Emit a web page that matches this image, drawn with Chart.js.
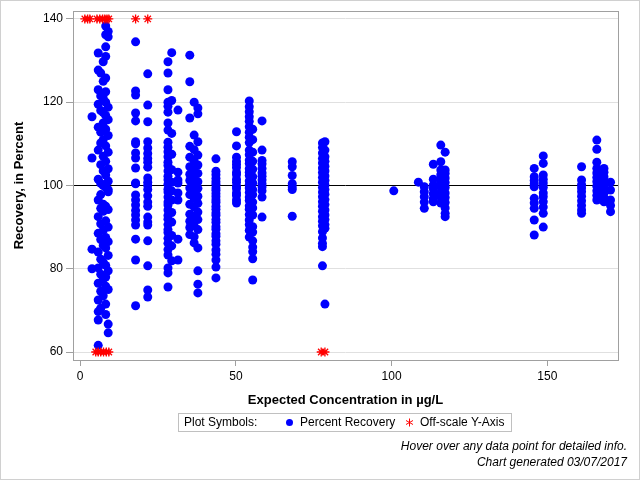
<!DOCTYPE html>
<html>
<head>
<meta charset="utf-8">
<script src="https://cdn.jsdelivr.net/npm/chart.js@4.4.1/dist/chart.umd.min.js"></script>
<style>
  body { margin: 0; background: #fff; font-family: "Liberation Sans", Arial, sans-serif; }
  #wrap { position: relative; width: 640px; height: 480px; }
  #frame { position: absolute; left: 0; top: 0; width: 640px; height: 480px; box-sizing: border-box; border: 1px solid #d0d0d0; pointer-events: none; }
  #legend { position: absolute; left: 178px; top: 413px; width: 334px; height: 19px; box-sizing: border-box; border: 1px solid #c0c0c0; font-size: 12px; color: #000; }
  #legend span { position: absolute; top: 1px; white-space: nowrap; }
  #legend .dot { top: 5px; width: 7px; height: 7px; border-radius: 50%; background: #0000ff; }
  #legend svg { position: absolute; top: 4px; }
  .note { position: absolute; right: 13px; font-size: 12px; font-style: italic; color: #000; white-space: nowrap; }
</style>
</head>
<body>
<div id="wrap">
  <canvas id="chart" width="640" height="480"></canvas>
  <div id="legend">
    <span style="left:5px">Plot Symbols:</span>
    <span class="dot" style="left:107px"></span>
    <span style="left:121px">Percent Recovery</span>
    <svg width="9" height="9" style="left:226px" viewBox="0 0 9 9"><g stroke="#ff0000" stroke-width="1"><line x1="4.5" y1="0.5" x2="4.5" y2="8.5"/><line x1="1" y1="2.5" x2="8" y2="6.5"/><line x1="1" y1="6.5" x2="8" y2="2.5"/></g></svg>
    <span style="left:241px">Off-scale Y-Axis</span>
  </div>
  <div class="note" style="top:439px">Hover over any data point for detailed info.</div>
  <div class="note" style="top:455px">Chart generated 03/07/2017</div>
  <div id="frame"></div>
</div>
<script>
// expected concentrations (µg/L), one entry per column of points
const concentrations = [3.8, 5.8, 6.6, 7.4, 8.2, 9.0, 17.8, 21.7, 28.2, 29.4, 31.4, 35.2, 36.6, 37.8,
    43.6, 50.2, 54.3, 55.4, 58.4, 68.1, 77.8, 78.6, 100.7, 108.6, 110.5, 113.4, 115.8, 117.2,
    145.8, 148.7, 161.0, 165.9, 168.2, 170.3];

// percent recovery for each concentration above
const recoveries = [
    [116.5, 106.6, 84.7, 80],
    [131.8, 127.7, 123, 119.5, 114, 108.5, 101.5, 96.5, 92.5, 88.5, 84, 80.2, 76.5, 72.5, 69.7, 67.7, 61.6],
    [127, 121.5, 118, 112.8, 110.2, 105, 100.5, 97.8, 94.5, 90.8, 87, 82.3, 78.7, 74.6, 70.5],
    [129.7, 125, 121, 117.5, 115, 111, 107, 103.5, 100, 95.5, 93.8, 89.2, 85.6, 81.6, 77.5, 73.5],
    [138.3, 136.2, 133.3, 131, 125.8, 122.5, 120, 116.8, 113.5, 109.5, 105.8, 102.5, 99.6, 95, 91.5, 87.5, 85, 80.8, 78, 75.8, 71.5, 69],
    [137, 135.7, 118.8, 115.8, 112, 108, 104, 101, 99, 98.5, 94.2, 90, 86.5, 83.2, 79.5, 75, 66.7, 64.6],
    [134.5, 122.7, 121.7, 117.4, 115.5, 110.5, 110, 107.8, 106.6, 104.2, 100.6, 100.4, 97.7, 96.5, 95.3, 94, 92.9, 91.7, 90.5, 87.1, 82.1, 71.1],
    [126.8, 119.3, 115.3, 110.5, 109, 107.7, 106.5, 105.6, 104.4, 101.8, 100.8, 100, 99, 97.5, 96, 95, 92.4, 91.2, 90.5, 86.7, 80.7, 74.9, 73.2],
    [129.7, 127, 123, 120, 119, 117.6, 115, 113.3, 110.4, 109.2, 108.1, 106.9, 105.6, 104.8, 103.5, 102.2, 101.4, 100.3, 99.1, 98.4, 97.2, 96.0, 95.3, 94.1, 92.8, 91.9, 90.6, 89.4, 88.7, 87.3, 86.1, 84.6, 83.3, 80.2, 79, 75.6],
    [131.9, 120.4, 112.5, 107.5, 103.8, 100.8, 98.7, 96.5, 93.5, 91.2, 88, 85.5, 81.9],
    [118.1, 103.2, 101.3, 100.6, 98.2, 96.5, 87.1, 82.1],
    [131.3, 124.9, 116.2, 109.4, 106.8, 104.5, 102.7, 101.2, 99.4, 97.8, 95.5, 93.1, 91.4, 89.9, 88.2],
    [120, 112.1, 108.6, 105.9, 103.6, 101.9, 100.3, 98.6, 96.9, 94.8, 92.6, 90.3, 87.7, 86.2],
    [118.6, 117.2, 110.5, 107.3, 104.9, 102.9, 100.9, 99.3, 97.4, 95.7, 93.6, 91.8, 89.4, 85, 79.5, 76.3, 74.2],
    [106.4, 103.4, 102.6, 101.7, 100.9, 100.3, 99.4, 98.8, 98.0, 97.3, 96.5, 95.9, 95.0, 94.3, 93.4, 92.8, 91.8, 91.1, 90.1, 89.5, 88.4, 87.8, 86.7, 85.9, 84.5, 83.5, 82.1, 80.4, 77.8],
    [112.9, 109.5, 106.8, 105.8, 105.1, 104.3, 103.2, 102.6, 101.5, 100.8, 99.8, 99.2, 98.2, 97.6, 96.5, 95.8],
    [120.3, 118.9, 117.7, 116.5, 115.4, 114.1, 112.8, 111.6, 110.3, 108.5, 107.4, 106.1, 105.3, 104.0, 103.2, 102.4, 101.1, 100.2, 99.4, 98.3, 97.2, 96.4, 95.1, 94.3, 93.0, 91.7, 90.6, 89.2, 87.6],
    [113.5, 111, 108, 105.8, 103.9, 102.1, 100.6, 99, 97.8, 96, 94.6, 92.9, 90.1, 88.8, 86.7, 85.2, 84.1, 82.4, 77.3],
    [115.5, 108.5, 106, 105.2, 104.1, 103.0, 102.2, 101.3, 100.4, 99.6, 98.7, 97.2, 92.4],
    [105.7, 104.5, 102.4, 100.4, 99.6, 99, 92.6],
    [110.2, 109.1, 107.8, 106.5, 105.4, 104.2, 103.1, 101.9, 100.8, 99.5, 98.4, 97.3, 96.1, 95.0, 93.8, 92.5, 91.4, 90.3, 88.9, 87.4, 86.1, 85.3, 80.7],
    [110.5, 108.5, 106.9, 105.8, 104.6, 103.5, 102.3, 101.2, 100.1, 99.0, 97.9, 96.6, 95.4, 94.1, 92.9, 91.8, 90.6, 89.7, 71.5],
    [98.7],
    [100.8],
    [99.7, 98.5, 97.3, 96.0, 94.5],
    [105.1, 101.5, 100.1, 99.2, 98.0, 96.8, 96.1],
    [109.7, 105.7, 103.7, 102.6, 101.4, 100.5, 99.6, 98.3, 97.2, 95.8],
    [108, 103.7, 102.9, 101.8, 100.7, 99.5, 98.2, 97.1, 95.9, 94.6, 93.3, 92.5],
    [104.1, 102.1, 101.2, 100.4, 99.7, 96.9, 95.8, 94.5, 91.7, 88.1],
    [107.1, 105.3, 102.5, 101.5, 100.6, 99.5, 98.2, 97.3, 96.1, 94.8, 93.3, 90],
    [104.5, 101.3, 100.2, 99.4, 98.5, 97.4, 96.3, 95.2, 94.1, 93.3],
    [110.9, 108.7, 105.6, 104.1, 103.0, 101.9, 100.9, 99.8, 98.7, 97.6, 96.5],
    [104.1, 103.2, 102.1, 101.0, 100.0, 99.0, 98.1, 97.0, 96.1],
    [100.8, 98.9, 96.5, 95.2, 93.7]
];

// concentrations whose recovery is off the scale (drawn at the axis limits)
const offScaleHighX = [1.5, 2.4, 3.1, 5.4, 6.3, 7.2, 7.9, 8.6, 9.2, 17.8, 21.7];
const offScaleLowX = [5.0, 5.8, 6.6, 7.5, 8.4, 9.2, 77.4, 78.6];
const offScaleHigh = 140;
const offScaleLow = 60;

const xTicks = [0, 50, 100, 150];
const yTicks = [60, 80, 100, 120, 140];

const recoveryPoints = [];
concentrations.forEach((c, i) => {
    recoveries[i].forEach(r => recoveryPoints.push({ x: c, y: r }));
});
const offScalePoints = offScaleHighX.map(c => ({ x: c, y: offScaleHigh }))
    .concat(offScaleLowX.map(c => ({ x: c, y: offScaleLow })));

const frameColor = "#a0a0a0";
const fontFamily = "'Liberation Sans', Arial, sans-serif";

// gray box round the plot area
const plotFrame = {
    id: "plotFrame",
    afterDraw(chart) {
        const a = chart.chartArea;
        const c = chart.ctx;
        c.save();
        c.strokeStyle = frameColor;
        c.lineWidth = 1;
        c.strokeRect(Math.round(a.left) + 0.5, Math.round(a.top) + 0.5,
            Math.round(a.right - a.left), Math.round(a.bottom - a.top));
        c.restore();
    }
};

new Chart(document.getElementById("chart").getContext("2d"), {
    type: "scatter",
    data: {
        datasets: [
            {
                label: "Off-scale Y-Axis",
                data: offScalePoints,
                pointStyle: "star",
                radius: 4.5,
                borderColor: "#ff0000",
                backgroundColor: "#ff0000",
                borderWidth: 1.3
            },
            {
                label: "Percent Recovery",
                data: recoveryPoints,
                pointStyle: "circle",
                radius: 4.5,
                borderWidth: 0,
                backgroundColor: "#0000ff",
                borderColor: "#0000ff"
            }
        ]
    },
    options: {
        responsive: false,
        animation: false,
        devicePixelRatio: 1,
        layout: { padding: { left: 4, right: 22, top: 11, bottom: 72 } },
        plugins: {
            legend: { display: false },
            tooltip: { enabled: true }
        },
        scales: {
            x: {
                type: "linear",
                min: -2.3,
                max: 172.7,
                afterBuildTicks: s => { s.ticks = xTicks.map(v => ({ value: v })); },
                afterFit: s => { s.height = 48; },
                border: { display: false },
                grid: { drawOnChartArea: false, drawTicks: true, tickLength: 6, tickColor: frameColor },
                ticks: { color: "#000", padding: 3, maxRotation: 0, font: { family: fontFamily, size: 12 } },
                title: {
                    display: true,
                    text: "Expected Concentration in µg/L",
                    color: "#000",
                    padding: { top: 4, bottom: 0 },
                    font: { family: fontFamily, size: 13, weight: "bold" }
                }
            },
            y: {
                type: "linear",
                min: 58.08,
                max: 141.9,
                afterBuildTicks: s => { s.ticks = yTicks.map(v => ({ value: v })); },
                afterFit: s => { s.width = 69; },
                border: { display: false },
                grid: {
                    color: c => (c.tick && c.tick.value === 100 ? "#000000" : "#e0e0e0"),
                    lineWidth: 1,
                    tickLength: 7,
                    tickColor: frameColor
                },
                ticks: { color: "#000", padding: 3, font: { family: fontFamily, size: 12 } },
                title: {
                    display: true,
                    text: "Recovery, in Percent",
                    color: "#000",
                    padding: { top: 8, bottom: 4 },
                    font: { family: fontFamily, size: 13, weight: "bold" }
                }
            }
        }
    },
    plugins: [plotFrame]
});
</script>
</body>
</html>
